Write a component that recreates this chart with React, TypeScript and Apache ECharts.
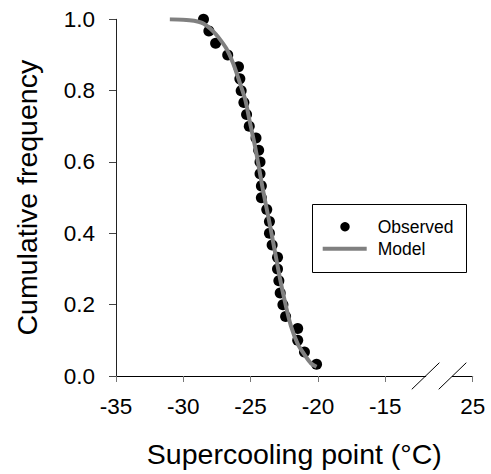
import React, { useEffect, useRef } from 'react';
import * as echarts from 'echarts';

// Observed supercooling points (°C) and their cumulative frequencies
const observedTemps = [
  -20.1, -21.0, -21.5, -21.5, -22.4, -22.6, -22.8, -22.9, -23.0, -23.0,
  -23.4, -23.6, -23.6, -23.8, -24.2, -24.2, -24.3, -24.3, -24.4, -24.6,
  -25.1, -25.3, -25.5, -25.7, -25.8, -25.9, -26.7, -27.6, -28.1, -28.5,
];
const observedFreq = [
  0.033, 0.067, 0.1, 0.133, 0.167, 0.2, 0.233, 0.267, 0.3, 0.333,
  0.367, 0.4, 0.433, 0.467, 0.5, 0.533, 0.567, 0.6, 0.633, 0.667,
  0.7, 0.733, 0.767, 0.8, 0.833, 0.867, 0.9, 0.933, 0.967, 1.0,
];

// Fitted model curve
const modelTemps = [
  -31.0, -30.0, -29.2, -28.6, -28.2, -27.8, -27.4, -26.8, -26.3, -25.8,
  -25.4, -25.1, -24.6, -24.1, -23.6, -23.1, -22.8, -22.4, -22.0, -21.5,
  -21.0, -20.5, -20.1,
];
const modelFreq = [
  1.0, 0.999, 0.996, 0.99, 0.98, 0.967, 0.95, 0.918, 0.877, 0.822,
  0.775, 0.72, 0.63, 0.525, 0.43, 0.33, 0.27, 0.2, 0.14, 0.09,
  0.06, 0.035, 0.026,
];

// X-axis ticks: the last tick sits past the axis break and is labelled 25
const xTickValues = [-35, -30, -25, -20, -15, -8.5];
const xTickLabels = ['-35', '-30', '-25', '-20', '-15', '25'];
const breakMarks = [-12, -10];

const FONT = 'Liberation Sans, Arial, Helvetica, sans-serif';

export default function App() {
  const ref = useRef<HTMLDivElement>(null);

  useEffect(() => {
    if (!ref.current) return;
    const chart = echarts.init(ref.current, undefined, { renderer: 'svg' });
    chart.setOption({
      animation: false,
      backgroundColor: '#fff',
      grid: { left: 116, top: 19.3, right: 18.3, bottom: 98, containLabel: false },
      xAxis: {
        type: 'value',
        min: -35,
        max: -8.5,
        name: 'Supercooling point (°C)',
        nameLocation: 'middle',
        nameGap: 63,
        nameTextStyle: { fontFamily: FONT, fontSize: 28.5, color: '#000' },
        axisLine: { show: true, lineStyle: { color: '#000', width: 1 } },
        axisTick: { show: true, length: 6, lineStyle: { color: '#777' }, customValues: xTickValues },
        axisLabel: {
          customValues: xTickValues,
          margin: 19,
          fontFamily: FONT,
          fontSize: 22.5,
          color: '#000',
          formatter: (v: number) => {
            const i = xTickValues.indexOf(v);
            return i >= 0 ? xTickLabels[i] : '';
          },
        },
        splitLine: { show: false },
      },
      yAxis: {
        type: 'value',
        min: 0,
        max: 1,
        interval: 0.2,
        name: 'Cumulative frequency',
        nameLocation: 'middle',
        nameGap: 75,
        nameTextStyle: { fontFamily: FONT, fontSize: 28.5, color: '#000' },
        axisLine: { show: true, lineStyle: { color: '#222', width: 1 } },
        axisTick: { show: true, length: 7, lineStyle: { color: '#444' } },
        axisLabel: {
          margin: 21,
          fontFamily: FONT,
          fontSize: 22.5,
          color: '#000',
          formatter: (v: number) => v.toFixed(1),
        },
        splitLine: { show: false },
      },
      series: [
        {
          name: 'Observed',
          type: 'scatter',
          data: observedTemps.map((t, i) => [t, observedFreq[i]]),
          symbol: 'circle',
          symbolSize: 11,
          itemStyle: { color: '#000', opacity: 1 },
          z: 2,
        },
        {
          name: 'Model',
          type: 'line',
          data: modelTemps.map((t, i) => [t, modelFreq[i]]),
          showSymbol: false,
          symbol: 'none',
          smooth: 0.3,
          lineStyle: { color: '#808080', width: 4 },
          z: 3,
        },
      ],
    });

    const p0 = chart.convertToPixel({ xAxisIndex: 0, yAxisIndex: 0 }, [breakMarks[0], 0]) as number[];
    const p1 = chart.convertToPixel({ xAxisIndex: 0, yAxisIndex: 0 }, [breakMarks[1], 0]) as number[];
    const lx = 312, ly = 204, lw = 154, lh = 68;
    chart.setOption({
      graphic: [
        {
          type: 'rect',
          shape: { x: p0[0] + 0.5, y: p0[1] - 2.5, width: p1[0] - p0[0] - 1, height: 5 },
          style: { fill: '#fff' },
          z: 100,
        },
        {
          type: 'line',
          shape: { x1: p0[0] - 13.8, y1: p0[1] + 13.3, x2: p0[0] + 13.8, y2: p0[1] - 13.3 },
          style: { stroke: '#000', lineWidth: 1 },
          z: 101,
        },
        {
          type: 'line',
          shape: { x1: p1[0] - 13.8, y1: p1[1] + 13.3, x2: p1[0] + 13.8, y2: p1[1] - 13.3 },
          style: { stroke: '#000', lineWidth: 1 },
          z: 101,
        },
        {
          type: 'rect',
          shape: { x: lx + 0.5, y: ly + 0.5, width: lw, height: lh },
          style: { fill: '#fff', stroke: '#000', lineWidth: 1 },
          z: 100,
        },
        {
          type: 'circle',
          shape: { cx: 345, cy: 226.7, r: 4.7 },
          style: { fill: '#000' },
          z: 101,
        },
        {
          type: 'line',
          shape: { x1: 322.7, y1: 248.7, x2: 366.7, y2: 248.7 },
          style: { stroke: '#808080', lineWidth: 4 },
          z: 101,
        },
        {
          type: 'text',
          x: 377.7,
          y: 226.7,
          style: { text: 'Observed', fontFamily: FONT, fontSize: 17.5, fill: '#000', verticalAlign: 'middle' },
          z: 101,
        },
        {
          type: 'text',
          x: 377.7,
          y: 248.7,
          style: { text: 'Model', fontFamily: FONT, fontSize: 17.5, fill: '#000', verticalAlign: 'middle' },
          z: 101,
        },
      ],
    });

    return () => chart.dispose();
  }, []);

  return (
    <div
      ref={ref}
      style={{ position: 'fixed', left: 0, top: 0, width: 491, height: 474, background: '#fff' }}
    />
  );
}
